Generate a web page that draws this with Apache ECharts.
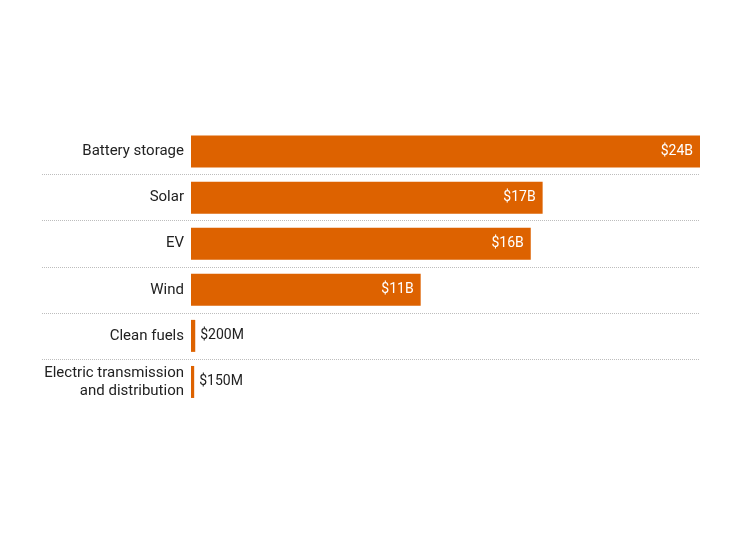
<!DOCTYPE html>
<html>
<head>
<meta charset="utf-8">
<script src="https://cdn.jsdelivr.net/npm/echarts@6/dist/echarts.min.js"></script>
<style>
  html, body { margin: 0; padding: 0; background: #fff; }
  #chart { width: 750px; height: 540px; }
</style>
</head>
<body>
<div id="chart"></div>
<script>
const categories = ['Battery storage', 'Solar', 'EV', 'Wind', 'Clean fuels', 'Electric transmission\nand distribution'];
// billions of dollars
const values = [24, 16.58, 16.02, 10.83, 0.2, 0.15];
const valueLabels = ['$24B', '$17B', '$16B', '$11B', '$200M', '$150M'];

const BAR = '#dd6200';
const FONT = 'Roboto, "DejaVu Sans", sans-serif';

const chart = echarts.init(document.getElementById('chart'));

const barData = values.map((v, i) => {
  const small = v < 2;
  return {
    value: v,
    label: {
      show: true,
      position: small ? 'right' : 'insideRight',
      distance: small ? 5 : 7,
      color: small ? '#222' : '#fff',
      fontFamily: FONT,
      fontSize: 14,
      formatter: () => valueLabels[i]
    }
  };
});

const gridBox = { top: 128.5, bottom: 135, outerBoundsMode: 'none', containLabel: false };

chart.setOption({
  animation: false,
  grid: [
    // bars
    Object.assign({ left: 191, right: 50 }, gridBox),
    // full-width separator lines, label column included
    Object.assign({ left: 42, right: 50 }, gridBox)
  ],
  xAxis: [
    { gridIndex: 0, type: 'value', min: 0, max: 24, show: false },
    { gridIndex: 1, type: 'value', min: 0, max: 1, show: false }
  ],
  yAxis: [
    {
      gridIndex: 0,
      type: 'category',
      data: categories,
      inverse: true,
      axisLine: { show: false },
      axisTick: { show: false },
      axisLabel: {
        color: '#222',
        fontFamily: FONT,
        fontSize: 15,
        lineHeight: 18,
        margin: 7,
        align: 'right'
      },
      splitLine: { show: false }
    },
    {
      gridIndex: 1,
      type: 'category',
      data: categories,
      inverse: true,
      axisLine: { show: false },
      axisTick: { show: false },
      axisLabel: { show: false },
      splitLine: {
        show: true,
        showMinLine: false,
        showMaxLine: false,
        lineStyle: { color: '#bdbdbd', type: 'dotted', width: 1 }
      }
    }
  ],
  series: [{
    type: 'bar',
    xAxisIndex: 0,
    yAxisIndex: 0,
    data: barData,
    barWidth: 32,
    itemStyle: { color: BAR }
  }]
});
</script>
</body>
</html>
